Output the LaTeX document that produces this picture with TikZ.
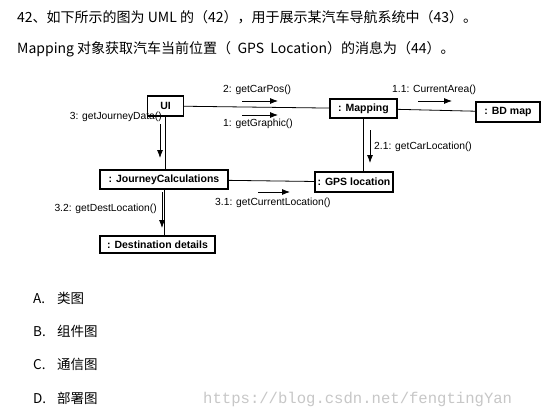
\documentclass[tikz,border=0pt]{standalone}
\usepackage{fontspec}
\setmainfont{Liberation Sans}
\newfontfamily\cjk{Noto Sans CJK SC}
\newfontfamily\wmfont{Liberation Mono}
\usetikzlibrary{arrows.meta}
\begin{document}
\begin{tikzpicture}[x=1pt,y=-1pt,
  obj/.style={draw,line width=1.2pt,minimum height=19pt,inner sep=0pt,font=\fontsize{10.5}{12}\selectfont\bfseries},
  link/.style={line width=0.8pt},
  msg/.style={line width=0.8pt,-{Latex[length=8pt,width=6pt]}},
  lbl/.style={inner sep=0pt,font=\fontsize{10.3}{12}\selectfont},
  toptext/.style={inner sep=0pt,anchor=base west,font=\cjk\fontsize{14}{16}\selectfont},
  opt/.style={inner sep=0pt,anchor=base west,font=\cjk\fontsize{13.5}{15}\selectfont}]
\useasboundingbox (0,0) rectangle (556,415);
\fill[white] (0,0) rectangle (556,415);

% header text
\node[toptext] (t1) at (17,22) {42、如下所示的图为 UML 的（42），用于展示某汽车导航系统中（43）。};
\node[toptext] (t2) at (17,53) {Mapping 对象获取汽车当前位置（ \ GPS \ Location）的消息为（44）。};

% objects
\node[obj,minimum width=36pt,minimum height=20pt] (ui) at (165.5,106) {UI};
\node[obj,minimum width=67pt] (map) at (363.5,108.5) {: Mapping};
\node[obj,minimum width=64pt,minimum height=20pt] (bd) at (508,112) {: BD map};
\node[obj,minimum width=128pt] (jc) at (164,179.5) {: JourneyCalculations};
\node[obj,minimum width=78pt,minimum height=20pt] (gps) at (354,182) {: GPS location};
\node[obj,minimum width=115pt,minimum height=17pt] (dest) at (157.5,244.5) {: Destination details};

% links
\draw[link] (ui) -- (map);
\draw[link] (map) -- (bd);
\draw[link] (jc) -- (gps);
\draw[link] (ui.south) -- (ui.south |- jc.north);
\draw[link] (map.south) -- (map.south |- gps.north);
\draw[link] (jc.south) -- (jc.south |- dest.north);

% message arrows
\coordinate (m2a) at (242,101); \coordinate (m2b) at (278,101);
\coordinate (m1a) at (242,115); \coordinate (m1b) at (278,115);
\coordinate (m3a) at (160,124); \coordinate (m3b) at (160,158);
\coordinate (m11a) at (418,101); \coordinate (m11b) at (452,101);
\coordinate (m21a) at (370,130); \coordinate (m21b) at (370,163);
\coordinate (m31a) at (258,192); \coordinate (m31b) at (290,192);
\coordinate (m32a) at (162,192); \coordinate (m32b) at (162,228);
\draw[msg] (m2a) -- (m2b);
\draw[msg] (m1a) -- (m1b);
\draw[msg] (m3a) -- (m3b);
\draw[msg] (m11a) -- (m11b);
\draw[msg] (m21a) -- (m21b);
\draw[msg] (m31a) -- (m31b);
\draw[msg] (m32a) -- (m32b);

% message labels
\node[lbl,anchor=west] (l2) at (223,90) {2: getCarPos()};
\node[lbl,anchor=west] (l1) at (223,124) {1: getGraphic()};
\node[lbl,anchor=east] (l3) at (162,117) {3: getJourneyData()};
\node[lbl,anchor=west] (l11) at (392,90) {1.1: CurrentArea()};
\node[lbl,anchor=west] (l21) at (374,147) {2.1: getCarLocation()};
\node[lbl,anchor=west] (l31) at (215,203) {3.1: getCurrentLocation()};
\node[lbl,anchor=east] (l32) at (157,209) {3.2: getDestLocation()};

% options
\node[opt] (oa) at (33,303) {A.};
\node[opt] (oat) at (57,303) {类图};
\node[opt] (ob) at (33,336) {B.};
\node[opt] (obt) at (57,336) {组件图};
\node[opt] (oc) at (33,369) {C.};
\node[opt] (oct) at (57,369) {通信图};
\node[opt] (od) at (33,403) {D.};
\node[opt] (odt) at (57,403) {部署图};

% watermark
\node[inner sep=0pt,anchor=base west,text=black!22,font=\wmfont\fontsize{15.6}{17}\selectfont] (wm) at (203,403) {https://blog.csdn.net/fengtingYan};
\end{tikzpicture}
\end{document}
